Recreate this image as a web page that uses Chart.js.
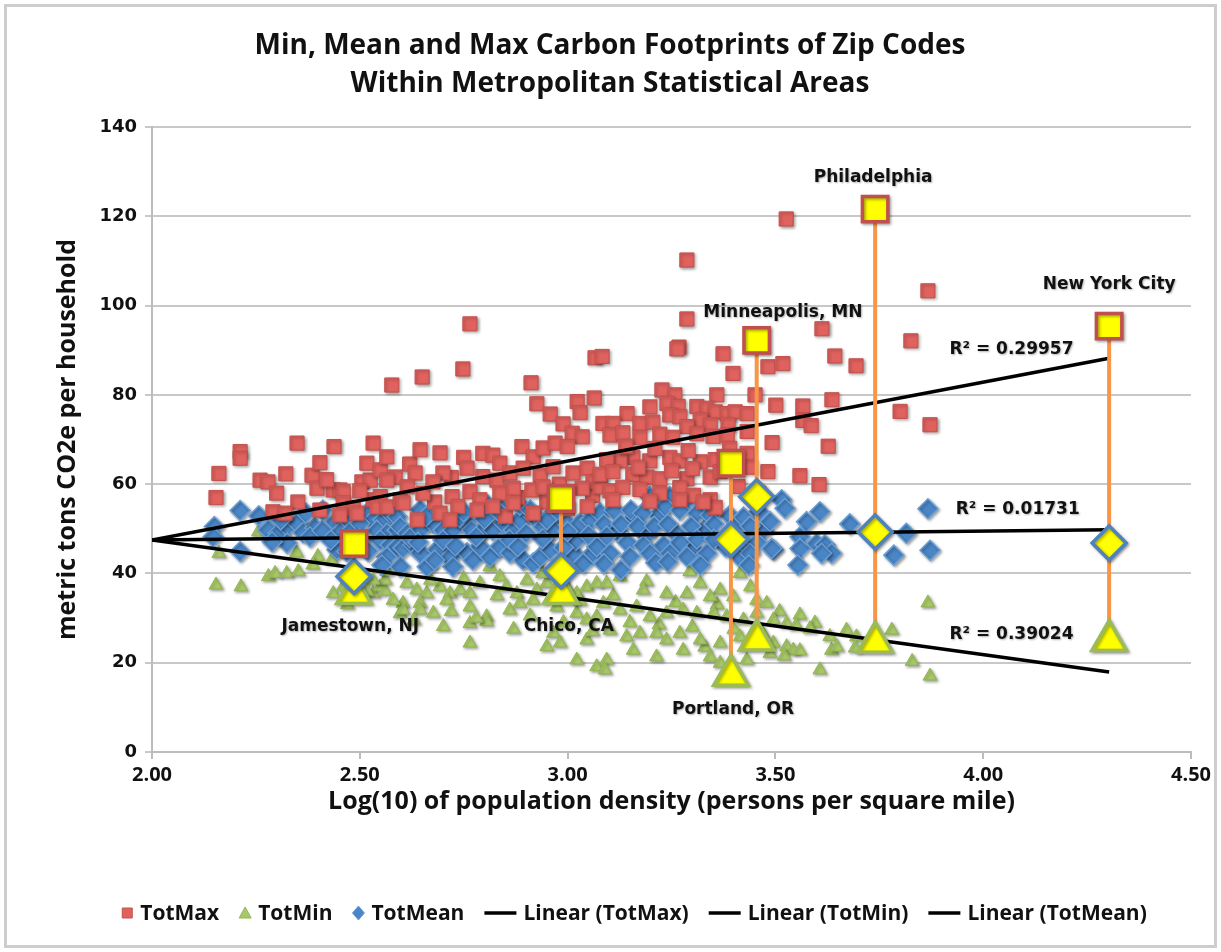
<!DOCTYPE html>
<html lang="en">
<head>
<meta charset="UTF-8">
<title>Carbon Footprints of Zip Codes</title>
<script src="https://cdn.jsdelivr.net/npm/chart.js"></script>
<style>
  body { margin: 0; background: #fff; }
  .wrap { width: 1221px; height: 952px; }
</style>
</head>
<body>
<div class="wrap"><canvas id="chart" width="1221" height="952"></canvas></div>
<script>
// Zip code carbon footprints, [log10 density, tCO2e per household]
const totMax = [
  [2.154,57.0],[2.161,62.4],[2.212,67.3],[2.212,65.8],[2.260,60.9],[2.279,60.5],[2.322,62.3],[2.349,69.2],
  [2.385,62.0],[2.404,64.8],[2.397,59.1],[2.438,68.4],[2.436,58.7],[2.452,58.7],[2.460,58.3],[2.532,69.2],
  [2.577,82.2],[2.351,56.0],[2.291,53.8],[2.320,53.5],[2.404,54.2],[2.472,54.6],[2.505,60.5],[2.525,60.9],
  [2.517,64.7],[2.549,63.2],[2.565,66.1],[2.585,61.6],[2.565,60.9],[2.532,56.5],[2.549,57.2],[2.460,55.8],
  [2.484,54.7],[2.541,54.9],[2.565,54.9],[2.597,56.5],[2.452,53.1],[2.493,53.5],
  [2.300,58.0],[2.420,61.0],[2.500,58.5],[2.620,64.5],[2.680,56.0],[2.720,61.5],[2.750,66.0],[2.850,52.8],
  [2.880,57.0],[2.950,56.0],[2.980,60.0],[3.000,54.5],[3.060,57.5],
  [2.765,95.9],[2.650,84.0],[2.748,85.8],[2.912,82.7],[3.066,88.3],[3.083,88.6],[2.926,78.0],[2.958,75.7],
  [2.989,73.5],[3.023,78.5],[3.030,76.0],[3.064,79.3],[3.011,71.4],[3.035,70.6],[2.645,67.7],[2.693,67.0],
  [2.796,66.9],[2.820,66.5],[2.837,64.7],[2.890,68.4],[2.917,66.1],[2.941,68.1],[2.970,69.2],[2.999,68.4],
  [2.633,62.5],[2.700,62.5],[2.758,63.6],[2.796,61.7],[2.830,60.9],[2.861,62.5],[2.893,63.6],[2.934,62.0],
  [2.965,63.9],[3.013,62.5],[3.047,63.6],[3.061,60.5],[2.614,59.4],[2.652,58.0],[2.676,60.5],[2.722,57.2],
  [2.765,58.3],[2.789,56.5],[2.837,58.0],[2.869,59.1],[2.914,58.7],[2.941,59.4],[3.035,59.1],[2.693,53.5],
  [2.736,55.0],[2.782,54.2],[2.820,55.0],[2.869,55.8],[2.917,53.5],[3.047,55.0],[3.078,59.4],[2.717,52.0],
  [2.604,55.8],[2.638,52.0],
  [3.287,110.2],[3.287,97.0],[3.268,90.7],[3.263,90.3],[3.374,89.2],[3.398,84.8],[3.482,86.3],[3.518,87.0],
  [3.227,81.1],[3.258,80.0],[3.359,80.0],[3.451,80.0],[3.501,77.7],[3.198,77.3],[3.239,78.1],[3.266,77.4],
  [3.246,75.5],[3.270,75.1],[3.311,77.4],[3.335,77.0],[3.355,76.2],[3.384,75.8],[3.403,76.2],[3.432,75.8],
  [3.143,75.8],[3.174,73.6],[3.085,73.6],[3.109,73.6],[3.205,73.9],[3.319,74.4],[3.287,72.9],[3.343,73.3],
  [3.386,73.3],[3.102,71.0],[3.133,71.5],[3.174,70.4],[3.222,71.2],[3.253,70.5],[3.311,71.3],[3.350,70.7],
  [3.384,71.0],[3.432,71.8],[3.492,69.3],[3.246,66.0],[3.270,65.2],[3.319,65.0],[3.355,65.5],[3.198,65.2],
  [3.157,66.0],[3.126,65.2],[3.094,65.5],[3.432,66.9],[3.482,62.8],[3.078,62.2],[3.109,62.8],[3.157,62.2],
  [3.191,61.6],[3.222,61.2],[3.287,61.2],[3.343,61.6],[3.367,62.8],[3.102,58.5],[3.133,59.3],[3.174,58.8],
  [3.222,58.0],[3.270,59.2],[3.303,57.5],[3.343,56.5],[3.355,54.8],[3.109,56.5],[3.198,56.2],[3.270,56.5],
  [3.326,56.0],
  [3.140,68.5],[3.170,63.8],[3.210,68.0],[3.250,63.0],[3.290,67.5],[3.300,63.5],[3.390,68.0],[3.410,59.5],
  [3.440,63.8],[3.460,58.0],
  [3.526,119.4],[3.612,94.8],[3.643,88.7],[3.694,86.5],[3.826,92.1],[3.636,78.9],[3.566,77.5],[3.566,74.3],
  [3.586,73.1],[3.800,76.3],[3.627,68.5],[3.559,61.9],[3.605,59.9],[3.867,103.3],[3.872,73.3]
];

const totMin = [
  [2.154,37.4],[2.214,37.0],[2.161,44.5],[2.256,49.3],[2.280,39.3],[2.296,40.0],[2.324,40.0],[2.352,40.4],
  [2.348,44.6],[2.399,43.8],[2.387,41.9],[2.432,43.0],[2.452,44.9],[2.436,35.5],[2.460,37.0],[2.532,35.5],
  [2.549,37.0],[2.561,36.0],[2.561,38.5],[2.565,40.5],[2.532,38.5],[2.517,36.0],[2.597,31.0],
  [2.808,52.7],[2.613,37.8],[2.637,36.3],[2.661,35.5],[2.604,33.3],[2.645,33.3],[2.693,37.0],[2.717,35.5],
  [2.741,36.3],[2.765,35.5],[2.789,37.8],[2.813,41.5],[2.837,39.3],[2.853,37.0],[2.878,35.5],[2.902,38.5],
  [2.926,36.3],[2.950,37.8],[2.998,37.0],[3.022,35.5],[3.046,37.0],[3.070,37.8],
  [2.604,31.8],[2.645,31.8],[2.677,31.1],[2.709,34.0],[2.765,32.5],[2.805,30.3],[2.861,31.8],[2.885,33.3],
  [2.917,34.0],[2.974,32.5],[3.022,31.1],[3.046,29.6],[3.070,30.3],
  [2.701,28.1],[2.765,28.8],[2.805,29.2],[2.966,26.6],[2.765,24.4],[2.950,23.6],[2.982,24.4],[3.046,25.1],
  [3.022,20.6],[3.070,19.1],
  [2.470,33.0],[2.580,34.0],[2.630,29.5],[2.670,38.5],[2.720,31.5],[2.750,38.8],[2.780,30.0],[2.830,35.0],
  [2.870,27.5],[2.910,30.5],[2.940,40.0],[2.990,29.0],[3.030,33.8],[3.060,27.0],[3.110,35.0],[3.150,29.0],
  [3.190,38.2],[3.220,28.5],[3.260,33.5],[3.300,28.0],[3.330,23.5],[3.360,33.0],[3.400,27.5],[3.440,37.0],
  [3.470,26.5],[3.510,31.5],
  [3.294,40.4],[3.319,37.8],[3.415,40.0],[3.367,36.3],[3.094,37.8],[3.126,39.3],[3.182,36.3],[3.238,35.5],
  [3.287,35.5],[3.343,34.8],[3.399,34.8],[3.455,34.0],[3.479,33.3],[3.086,33.3],[3.126,31.8],[3.166,32.5],
  [3.198,30.3],[3.238,31.1],[3.278,31.8],[3.311,31.1],[3.351,31.1],[3.383,30.3],[3.423,29.6],[3.455,31.1],
  [3.495,29.6],[3.527,28.8],[3.102,27.3],[3.142,25.8],[3.174,26.6],[3.214,26.6],[3.238,25.1],[3.270,26.6],
  [3.319,25.1],[3.367,24.4],[3.415,25.8],[3.495,24.4],[3.527,23.6],[3.158,22.8],[3.214,21.3],[3.278,22.8],
  [3.343,21.3],[3.431,20.6],[3.487,22.1],[3.543,22.8],[3.094,20.6],[3.367,19.9],[3.090,18.4],
  [3.780,27.3],[3.607,18.4],[3.559,30.7],[3.595,28.9],[3.671,27.3],[3.635,22.8],[3.695,25.8],[3.692,23.3],
  [3.550,28.3],[3.583,27.6],[3.631,25.9],[3.648,23.5],[3.559,22.7],[3.521,21.5],[3.829,20.3],[3.867,33.4],
  [3.872,17.0]
];

const totMean = [
  [2.150,50.5],[2.147,48.2],[2.212,54.1],[2.212,44.9],[2.257,52.9],[2.279,49.8],[2.303,49.0],[2.325,50.5],
  [2.349,51.3],[2.363,49.2],[2.392,50.2],[2.380,48.2],[2.409,49.6],[2.325,46.8],[2.289,47.1],[2.411,54.2],
  [2.440,51.6],[2.464,51.3],[2.452,49.3],[2.476,49.3],[2.517,53.5],[2.532,52.0],[2.556,52.0],[2.573,53.5],
  [2.590,52.7],[2.500,51.2],[2.541,49.7],[2.565,49.0],[2.590,49.7],[2.549,47.5],[2.573,46.4],[2.590,46.0],
  [2.565,43.7],[2.553,41.9],[2.597,41.5],[2.445,45.3],[2.469,44.9],
  [2.645,54.2],[2.597,50.5],[2.614,49.0],[2.645,49.7],[2.676,51.3],[2.700,49.7],[2.724,49.7],[2.753,51.6],
  [2.769,49.7],[2.796,49.7],[2.820,49.7],[2.845,51.3],[2.869,49.7],[2.885,52.0],[2.910,53.5],[2.926,52.0],
  [2.941,50.5],[2.965,49.7],[2.998,51.3],[3.030,51.3],[3.054,52.0],[3.078,53.5],[2.808,55.3],[2.833,55.3],
  [2.885,55.3],[2.910,54.2],
  [2.604,45.7],[2.628,46.4],[2.645,44.6],[2.662,41.5],[2.686,45.3],[2.717,43.7],[2.724,41.5],[2.758,44.6],
  [2.772,43.0],[2.789,46.0],[2.813,43.7],[2.837,46.0],[2.861,44.6],[2.893,43.0],[2.917,42.3],[2.934,43.7],
  [2.958,45.3],[3.013,44.6],[3.037,42.3],[3.061,44.6],
  [2.620,48.0],[2.700,47.5],[2.740,52.5],[2.780,48.2],[2.860,47.6],[2.940,47.8],[3.020,47.4],[2.660,52.8],
  [2.970,53.8],
  [2.310,52.0],[2.370,53.5],[2.430,47.5],[2.500,47.8],[2.520,45.0],[2.640,47.0],[2.680,43.0],[2.730,46.2],
  [2.750,53.8],[2.800,52.2],[2.840,53.3],[2.880,46.0],[2.900,49.0],[2.950,52.0],[2.990,45.8],[3.000,49.4],
  [3.050,48.6],[3.070,46.0],[3.120,49.5],[3.160,52.3],[3.190,48.5],[3.220,53.2],[3.260,49.0],[3.300,45.5],
  [3.330,49.8],[3.380,46.0],[3.390,53.0],[3.410,44.0],[3.460,53.8],[3.470,49.5],
  [3.198,57.2],[3.246,57.2],[3.287,56.5],[3.234,55.0],[3.111,54.2],[3.152,54.2],[3.180,53.5],[3.270,54.2],
  [3.311,53.5],[3.343,53.1],[3.087,51.1],[3.128,51.1],[3.168,50.6],[3.208,50.6],[3.241,51.1],[3.297,50.6],
  [3.352,51.1],[3.407,51.1],[3.423,52.6],[3.439,50.6],[3.487,51.6],[3.515,56.5],[3.523,54.6],[3.094,48.4],
  [3.143,47.0],[3.182,46.3],[3.231,46.3],[3.270,47.0],[3.311,47.7],[3.352,47.7],[3.423,47.0],[3.455,47.0],
  [3.102,44.5],[3.150,43.8],[3.198,44.5],[3.246,44.5],[3.287,43.8],[3.335,44.5],[3.439,44.5],[3.495,45.3],
  [3.087,42.2],[3.128,40.8],[3.212,42.4],[3.241,42.6],[3.319,41.9],[3.436,41.9],
  [3.575,51.6],[3.607,53.8],[3.679,51.1],[3.491,45.6],[3.559,48.2],[3.559,45.6],[3.554,41.9],[3.599,46.7],
  [3.619,46.4],[3.635,44.5],[3.611,44.5],[3.785,44.1],[3.815,49.0],[3.867,54.5],[3.872,45.2]
];

// Linear trend lines, start and end points
const trendX = [2.0, 4.303];
const trendMax = [47.5, 88.2];
const trendMin = [47.5, 17.9];
const trendMean = [47.5, 49.8];
const rSquared = ['0.29957', '0.39024', '0.01731'];

// Highlighted metro areas
const cityNames = ['Jamestown, NJ', 'Chico, CA', 'Portland, OR', 'Minneapolis, MN', 'Philadelphia', 'New York City'];
const cityX = [2.486, 2.984, 3.393, 3.455, 3.740, 4.303];
const cityMax = [46.7, 56.8, 64.7, 92.2, 121.6, 95.4];
const cityMean = [39.3, 40.6, 47.6, 57.2, 49.3, 46.8];
const cityMin = [35.5, 35.5, 17.2, 25.1, 24.6, 25.0];

const xTicks = [2.0, 2.5, 3.0, 3.5, 4.0, 4.5];

const RED = '#e0625e', RED_EDGE = '#c4504c';
const GREEN = '#a8c969', GREEN_EDGE = '#93b653';
const BLUE = '#4a86c6', BLUE_EDGE = '#6a9ed6';
const SANS = '"Open Sans", sans-serif';

const pts = arr => arr.map(p => ({ x: p[0], y: p[1] }));
const pair = (xs, ys) => xs.map((x, i) => ({ x, y: ys[i] }));

const datasets = [
  { label: 'TotMax', data: pts(totMax), pointStyle: 'rect', pointRadius: 10,
    backgroundColor: RED, borderColor: RED_EDGE, borderWidth: 1, shadow: true, order: 8, legendMark: 'rect' },
  { label: 'TotMin', data: pts(totMin), pointStyle: 'triangle', pointRadius: 8,
    backgroundColor: GREEN, borderColor: GREEN_EDGE, borderWidth: 1, shadow: true, order: 10, legendMark: 'triangle' },
  { label: 'TotMean', data: pts(totMean), pointStyle: 'rectRot', pointRadius: 10,
    backgroundColor: BLUE, borderColor: BLUE_EDGE, borderWidth: 1.5, shadow: true, order: 9, legendMark: 'rectRot' },
  { label: 'Linear (TotMax)', type: 'line', data: pair(trendX, trendMax), borderColor: '#000', borderWidth: 3.5,
    pointRadius: 0, order: 4, legendMark: 'line' },
  { label: 'Linear (TotMin)', type: 'line', data: pair(trendX, trendMin), borderColor: '#000', borderWidth: 3.5,
    pointRadius: 0, order: 4, legendMark: 'line' },
  { label: 'Linear (TotMean)', type: 'line', data: pair(trendX, trendMean), borderColor: '#000', borderWidth: 3.5,
    pointRadius: 0, order: 4, legendMark: 'line' }
];

// orange stems from max to min for each highlighted city
cityNames.forEach((name, i) => {
  datasets.push({ label: name, type: 'line', data: [{ x: cityX[i], y: cityMax[i] }, { x: cityX[i], y: cityMin[i] }],
    borderColor: '#f79646', borderWidth: 4, pointRadius: 0, order: 3 });
});

datasets.push(
  { label: 'city max', data: pair(cityX, cityMax), pointStyle: 'rect', pointRadius: 18,
    backgroundColor: '#ffff00', borderColor: '#c0504d', borderWidth: 3.5, shadow: true, order: 1 },
  { label: 'city mean', data: pair(cityX, cityMean), pointStyle: 'rectRot', pointRadius: 17,
    backgroundColor: '#ffff00', borderColor: '#4f81bd', borderWidth: 3.5, shadow: true, order: 1 },
  { label: 'city min', data: pair(cityX, cityMin), pointStyle: 'triangle', pointRadius: 20,
    backgroundColor: '#ffff00', borderColor: '#9bbb59', borderWidth: 3.5, shadow: true, order: 2 }
);

// text anchors in data units: city names and R² values
const cityLabelPos = [[2.477, 28.0], [3.003, 28.0], [3.398, 9.4], [3.518, 98.4], [3.735, 128.6], [4.303, 104.6]];
const rLabelPos = [[4.068, 90.2], [4.068, 26.4], [4.083, 54.4]];

const decorations = {
  id: 'decorations',
  beforeDraw(chart) {
    const ctx = chart.ctx;
    ctx.save();
    ctx.fillStyle = '#fff';
    ctx.fillRect(0, 0, chart.width, chart.height);
    ctx.strokeStyle = '#cdcdcd';
    ctx.lineWidth = 3;
    ctx.strokeRect(5.5, 5.5, chart.width - 11, chart.height - 11);
    ctx.restore();
  },
  beforeDatasetDraw(chart, args) {
    if (!chart.data.datasets[args.index].shadow) return;
    const ctx = chart.ctx;
    ctx.save();
    ctx.shadowColor = 'rgba(0,0,0,0.35)';
    ctx.shadowBlur = 3;
    ctx.shadowOffsetX = 1.5;
    ctx.shadowOffsetY = 1.5;
  },
  afterDatasetDraw(chart, args) {
    if (chart.data.datasets[args.index].shadow) chart.ctx.restore();
  },
  afterDraw(chart) {
    const ctx = chart.ctx;
    const xs = chart.scales.x, ys = chart.scales.y;
    ctx.save();

    // title
    ctx.fillStyle = '#111';
    ctx.textAlign = 'center';
    ctx.textBaseline = 'middle';
    ctx.font = 'bold 28px ' + SANS;
    ctx.fillText('Min, Mean and Max Carbon Footprints of Zip Codes', 610, 46);
    ctx.fillText('Within Metropolitan Statistical Areas', 610, 84);

    // annotations
    ctx.font = 'bold 17px "DejaVu Sans"';
    ctx.shadowColor = 'rgba(0,0,0,0.3)';
    ctx.shadowBlur = 2;
    ctx.shadowOffsetX = 1;
    ctx.shadowOffsetY = 1;
    cityNames.forEach((name, i) => {
      const p = cityLabelPos[i];
      ctx.fillText(name, xs.getPixelForValue(p[0]), ys.getPixelForValue(p[1]));
    });
    rSquared.forEach((r, i) => {
      const p = rLabelPos[i];
      ctx.fillText('R² = ' + r, xs.getPixelForValue(p[0]), ys.getPixelForValue(p[1]));
    });
    ctx.shadowColor = 'transparent';

    // legend
    const items = chart.data.datasets.filter(d => d.legendMark);
    ctx.font = 'bold 21px ' + SANS;
    ctx.textAlign = 'left';
    const markW = m => (m === 'line' ? 32 : 12);
    const gapMark = 7, gapItem = 20;
    let total = 0;
    items.forEach((d, i) => {
      total += markW(d.legendMark) + gapMark + ctx.measureText(d.label).width;
      if (i < items.length - 1) total += gapItem;
    });
    let x = 634 - total / 2;
    const y = 913;
    items.forEach(d => {
      const w = markW(d.legendMark);
      const cx = x + w / 2;
      ctx.fillStyle = d.backgroundColor;
      ctx.strokeStyle = d.borderColor;
      ctx.lineWidth = 1;
      ctx.beginPath();
      if (d.legendMark === 'rect') {
        ctx.rect(cx - 5, y - 5, 10, 10);
        ctx.fill(); ctx.stroke();
      } else if (d.legendMark === 'triangle') {
        ctx.moveTo(cx, y - 6); ctx.lineTo(cx + 6, y + 5); ctx.lineTo(cx - 6, y + 5); ctx.closePath();
        ctx.fill(); ctx.stroke();
      } else if (d.legendMark === 'rectRot') {
        ctx.moveTo(cx, y - 7); ctx.lineTo(cx + 6, y); ctx.lineTo(cx, y + 7); ctx.lineTo(cx - 6, y); ctx.closePath();
        ctx.fill(); ctx.stroke();
      } else {
        ctx.strokeStyle = '#000';
        ctx.lineWidth = 3.5;
        ctx.moveTo(x, y); ctx.lineTo(x + w, y);
        ctx.stroke();
      }
      x += w + gapMark;
      ctx.fillStyle = '#111';
      ctx.fillText(d.label, x, y + 1);
      x += ctx.measureText(d.label).width + gapItem;
    });
    ctx.restore();
  }
};

new Chart(document.getElementById('chart'), {
  type: 'scatter',
  data: { datasets },
  plugins: [decorations],
  options: {
    responsive: false,
    animation: false,
    events: [],
    layout: { padding: { left: 10, right: 30, top: 127, bottom: 10 } },
    plugins: { legend: { display: false }, tooltip: { enabled: false } },
    scales: {
      x: {
        type: 'linear', min: 2, max: 4.5,
        afterBuildTicks: s => { s.ticks = xTicks.map(v => ({ value: v })); },
        afterFit: s => { s.height = 190; },
        ticks: { callback: v => v.toFixed(2), color: '#111', padding: 4,
          font: { family: SANS, weight: 'bold', size: 20 } },
        grid: { drawOnChartArea: false, drawTicks: true, tickLength: 7, color: '#bcbcbc', lineWidth: 2 },
        border: { color: '#bcbcbc', width: 2 },
        title: { display: true, text: 'Log(10) of population density (persons per square mile)', color: '#111',
          font: { family: SANS, weight: 'bold', size: 25 }, padding: { top: 0, bottom: 125 } }
      },
      y: {
        min: 0, max: 140,
        afterFit: s => { s.width = 142; },
        ticks: { stepSize: 20, color: '#111', padding: 8,
          font: { family: 'DejaVu Sans', weight: 'bold', size: 18 } },
        grid: { color: '#c8c8c8', lineWidth: 2, tickLength: 7 },
        border: { color: '#bcbcbc', width: 2 },
        title: { display: true, text: 'metric tons CO2e per household', color: '#111',
          font: { family: SANS, weight: 'bold', size: 25 }, padding: { top: 43, bottom: 0 } }
      }
    }
  }
});
</script>
</body>
</html>
